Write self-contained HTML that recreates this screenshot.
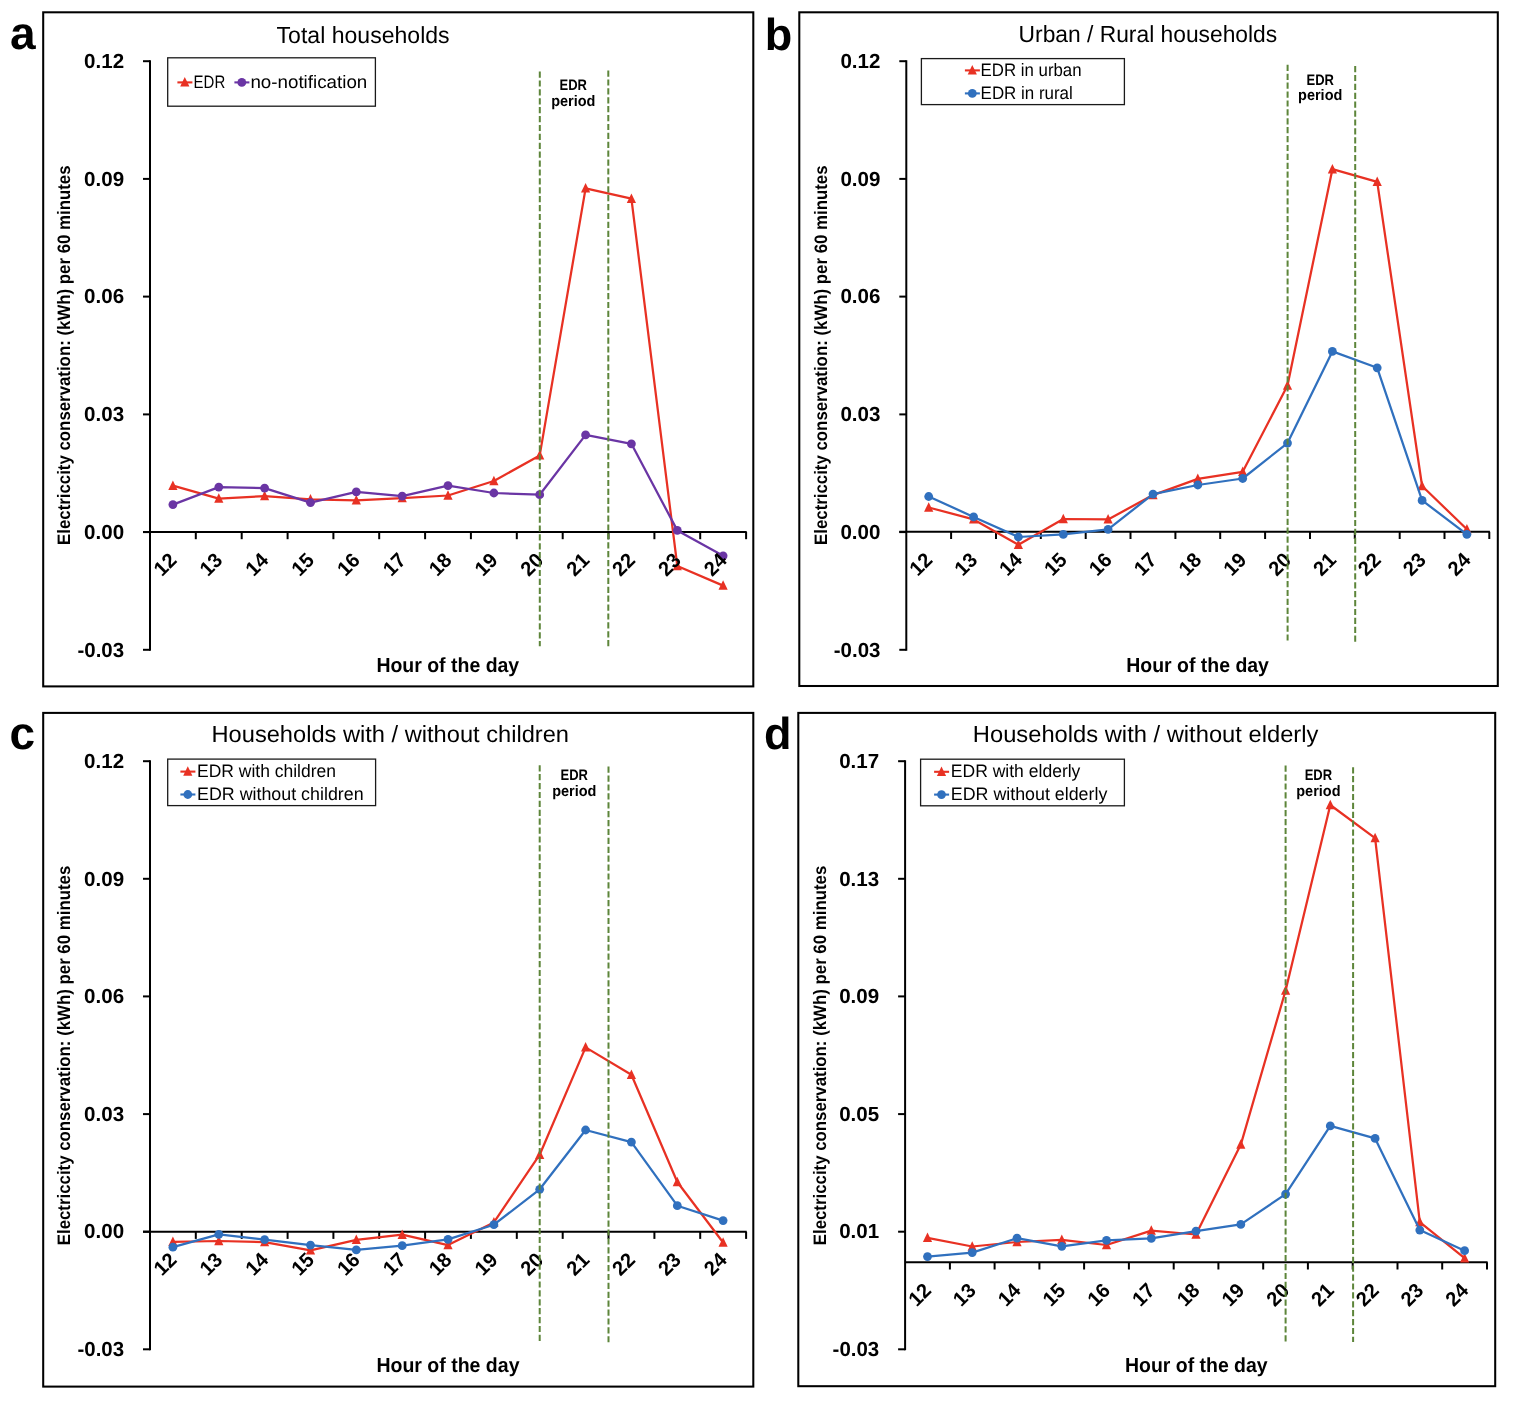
<!DOCTYPE html>
<html lang="en">
<head>
<meta charset="utf-8">
<title>Electricity conservation by hour of the day</title>
<style>
html,body{margin:0;padding:0;background:#fff;}
body{width:1514px;height:1403px;overflow:hidden;}
svg{display:block;}
svg text{font-family:"Liberation Sans",sans-serif;fill:#000;text-rendering:geometricPrecision;}
</style>
</head>
<body>
<svg width="1514" height="1403" viewBox="0 0 1514 1403">
<rect x="0" y="0" width="1514" height="1403" fill="#fff"/>
<g id="panel-a">
<rect x="43.2" y="12.3" width="710.1" height="674.1" fill="#fff" stroke="#000" stroke-width="2.05"/>
<text x="10.1" y="48.7" font-size="46.00" font-weight="700">a</text>
<text x="276.6" y="43.2" font-size="23.32" textLength="173.0" lengthAdjust="spacingAndGlyphs">Total households</text>
<line x1="150.0" y1="60.2" x2="150.0" y2="650.8" stroke="#000" stroke-width="2.0"/>
<line x1="143.0" y1="61.2" x2="150.0" y2="61.2" stroke="#000" stroke-width="2.0"/>
<text x="124.1" y="67.9" font-size="20.33" font-weight="700" text-anchor="end" textLength="40.0" lengthAdjust="spacingAndGlyphs">0.12</text>
<line x1="143.0" y1="178.9" x2="150.0" y2="178.9" stroke="#000" stroke-width="2.0"/>
<text x="124.1" y="185.6" font-size="20.33" font-weight="700" text-anchor="end" textLength="40.0" lengthAdjust="spacingAndGlyphs">0.09</text>
<line x1="143.0" y1="296.6" x2="150.0" y2="296.6" stroke="#000" stroke-width="2.0"/>
<text x="124.1" y="303.3" font-size="20.33" font-weight="700" text-anchor="end" textLength="40.0" lengthAdjust="spacingAndGlyphs">0.06</text>
<line x1="143.0" y1="414.4" x2="150.0" y2="414.4" stroke="#000" stroke-width="2.0"/>
<text x="124.1" y="421.1" font-size="20.33" font-weight="700" text-anchor="end" textLength="40.0" lengthAdjust="spacingAndGlyphs">0.03</text>
<line x1="143.0" y1="532.1" x2="150.0" y2="532.1" stroke="#000" stroke-width="2.0"/>
<text x="124.1" y="538.8" font-size="20.33" font-weight="700" text-anchor="end" textLength="40.0" lengthAdjust="spacingAndGlyphs">0.00</text>
<line x1="143.0" y1="649.8" x2="150.0" y2="649.8" stroke="#000" stroke-width="2.0"/>
<text x="124.1" y="656.5" font-size="20.33" font-weight="700" text-anchor="end" textLength="46.6" lengthAdjust="spacingAndGlyphs">-0.03</text>
<line x1="143.0" y1="532.0" x2="746.7" y2="532.0" stroke="#000" stroke-width="2.0"/>
<line x1="195.8" y1="532.0" x2="195.8" y2="539.2" stroke="#000" stroke-width="2.0"/>
<line x1="241.7" y1="532.0" x2="241.7" y2="539.2" stroke="#000" stroke-width="2.0"/>
<line x1="287.6" y1="532.0" x2="287.6" y2="539.2" stroke="#000" stroke-width="2.0"/>
<line x1="333.4" y1="532.0" x2="333.4" y2="539.2" stroke="#000" stroke-width="2.0"/>
<line x1="379.2" y1="532.0" x2="379.2" y2="539.2" stroke="#000" stroke-width="2.0"/>
<line x1="425.1" y1="532.0" x2="425.1" y2="539.2" stroke="#000" stroke-width="2.0"/>
<line x1="470.9" y1="532.0" x2="470.9" y2="539.2" stroke="#000" stroke-width="2.0"/>
<line x1="516.8" y1="532.0" x2="516.8" y2="539.2" stroke="#000" stroke-width="2.0"/>
<line x1="562.7" y1="532.0" x2="562.7" y2="539.2" stroke="#000" stroke-width="2.0"/>
<line x1="608.5" y1="532.0" x2="608.5" y2="539.2" stroke="#000" stroke-width="2.0"/>
<line x1="654.4" y1="532.0" x2="654.4" y2="539.2" stroke="#000" stroke-width="2.0"/>
<line x1="700.2" y1="532.0" x2="700.2" y2="539.2" stroke="#000" stroke-width="2.0"/>
<line x1="746.1" y1="532.0" x2="746.1" y2="539.2" stroke="#000" stroke-width="2.0"/>
<text x="376.4" y="671.6" font-size="20.52" font-weight="700" textLength="142.8" lengthAdjust="spacingAndGlyphs">Hour of the day</text>
<text transform="translate(70.4,355.2) rotate(-90)" x="0" y="0" font-size="18.00" font-weight="700" text-anchor="middle" textLength="379.5" lengthAdjust="spacingAndGlyphs">Electriccity conservation: (kWh) per 60 minutes</text>
<polyline points="172.9,485.7 218.8,498.6 264.6,496.1 310.5,499.4 356.3,500.4 402.2,498.1 448.0,495.5 493.9,481.0 539.7,455.4 585.6,188.4 631.4,198.7 677.3,566.0 723.1,585.6" fill="none" stroke="#e83123" stroke-width="2.25" stroke-linejoin="round"/>
<polygon points="172.9,480.4 177.5,489.9 168.3,489.9" fill="#e83123"/>
<polygon points="218.8,493.3 223.4,502.8 214.2,502.8" fill="#e83123"/>
<polygon points="264.6,490.8 269.2,500.3 260.0,500.3" fill="#e83123"/>
<polygon points="310.5,494.1 315.1,503.6 305.9,503.6" fill="#e83123"/>
<polygon points="356.3,495.1 360.9,504.6 351.7,504.6" fill="#e83123"/>
<polygon points="402.2,492.8 406.8,502.3 397.6,502.3" fill="#e83123"/>
<polygon points="448.0,490.2 452.6,499.7 443.4,499.7" fill="#e83123"/>
<polygon points="493.9,475.7 498.5,485.2 489.3,485.2" fill="#e83123"/>
<polygon points="539.7,450.1 544.3,459.6 535.1,459.6" fill="#e83123"/>
<polygon points="585.6,183.1 590.2,192.6 581.0,192.6" fill="#e83123"/>
<polygon points="631.4,193.4 636.0,202.9 626.8,202.9" fill="#e83123"/>
<polygon points="677.3,560.7 681.9,570.2 672.7,570.2" fill="#e83123"/>
<polygon points="723.1,580.3 727.7,589.8 718.5,589.8" fill="#e83123"/>
<polyline points="172.9,504.6 218.8,487.1 264.6,488.1 310.5,502.6 356.3,491.9 402.2,496.1 448.0,485.6 493.9,493.0 539.7,494.7 585.6,434.9 631.4,443.8 677.3,530.4 723.1,555.8" fill="none" stroke="#6a35a4" stroke-width="2.25" stroke-linejoin="round"/>
<circle cx="172.9" cy="504.6" r="4.4" fill="#6a35a4"/>
<circle cx="218.8" cy="487.1" r="4.4" fill="#6a35a4"/>
<circle cx="264.6" cy="488.1" r="4.4" fill="#6a35a4"/>
<circle cx="310.5" cy="502.6" r="4.4" fill="#6a35a4"/>
<circle cx="356.3" cy="491.9" r="4.4" fill="#6a35a4"/>
<circle cx="402.2" cy="496.1" r="4.4" fill="#6a35a4"/>
<circle cx="448.0" cy="485.6" r="4.4" fill="#6a35a4"/>
<circle cx="493.9" cy="493.0" r="4.4" fill="#6a35a4"/>
<circle cx="539.7" cy="494.7" r="4.4" fill="#6a35a4"/>
<circle cx="585.6" cy="434.9" r="4.4" fill="#6a35a4"/>
<circle cx="631.4" cy="443.8" r="4.4" fill="#6a35a4"/>
<circle cx="677.3" cy="530.4" r="4.4" fill="#6a35a4"/>
<circle cx="723.1" cy="555.8" r="4.4" fill="#6a35a4"/>
<text transform="translate(165.0,564.3) rotate(-45)" x="0" y="7.0" font-size="20.33" font-weight="700" text-anchor="middle" textLength="22.3" lengthAdjust="spacingAndGlyphs">12</text>
<text transform="translate(210.9,564.3) rotate(-45)" x="0" y="7.0" font-size="20.33" font-weight="700" text-anchor="middle" textLength="22.3" lengthAdjust="spacingAndGlyphs">13</text>
<text transform="translate(256.7,564.3) rotate(-45)" x="0" y="7.0" font-size="20.33" font-weight="700" text-anchor="middle" textLength="22.3" lengthAdjust="spacingAndGlyphs">14</text>
<text transform="translate(302.6,564.3) rotate(-45)" x="0" y="7.0" font-size="20.33" font-weight="700" text-anchor="middle" textLength="22.3" lengthAdjust="spacingAndGlyphs">15</text>
<text transform="translate(348.4,564.3) rotate(-45)" x="0" y="7.0" font-size="20.33" font-weight="700" text-anchor="middle" textLength="22.3" lengthAdjust="spacingAndGlyphs">16</text>
<text transform="translate(394.3,564.3) rotate(-45)" x="0" y="7.0" font-size="20.33" font-weight="700" text-anchor="middle" textLength="22.3" lengthAdjust="spacingAndGlyphs">17</text>
<text transform="translate(440.1,564.3) rotate(-45)" x="0" y="7.0" font-size="20.33" font-weight="700" text-anchor="middle" textLength="22.3" lengthAdjust="spacingAndGlyphs">18</text>
<text transform="translate(486.0,564.3) rotate(-45)" x="0" y="7.0" font-size="20.33" font-weight="700" text-anchor="middle" textLength="22.3" lengthAdjust="spacingAndGlyphs">19</text>
<text transform="translate(531.8,564.3) rotate(-45)" x="0" y="7.0" font-size="20.33" font-weight="700" text-anchor="middle" textLength="22.3" lengthAdjust="spacingAndGlyphs">20</text>
<text transform="translate(577.7,564.3) rotate(-45)" x="0" y="7.0" font-size="20.33" font-weight="700" text-anchor="middle" textLength="22.3" lengthAdjust="spacingAndGlyphs">21</text>
<text transform="translate(623.5,564.3) rotate(-45)" x="0" y="7.0" font-size="20.33" font-weight="700" text-anchor="middle" textLength="22.3" lengthAdjust="spacingAndGlyphs">22</text>
<text transform="translate(669.4,564.3) rotate(-45)" x="0" y="7.0" font-size="20.33" font-weight="700" text-anchor="middle" textLength="22.3" lengthAdjust="spacingAndGlyphs">23</text>
<text transform="translate(715.2,564.3) rotate(-45)" x="0" y="7.0" font-size="20.33" font-weight="700" text-anchor="middle" textLength="22.3" lengthAdjust="spacingAndGlyphs">24</text>
<line x1="539.8" y1="71.5" x2="539.8" y2="646.3" stroke="#5d853a" stroke-width="2.0" stroke-dasharray="6.2 2.7"/>
<line x1="608.3" y1="70.5" x2="608.3" y2="646.3" stroke="#5d853a" stroke-width="2.0" stroke-dasharray="6.2 2.7"/>
<text x="573.3" y="89.9" font-size="15.20" font-weight="700" text-anchor="middle" textLength="27.4" lengthAdjust="spacingAndGlyphs">EDR</text>
<text x="573.3" y="105.6" font-size="15.20" font-weight="700" text-anchor="middle" textLength="44.3" lengthAdjust="spacingAndGlyphs">period</text>
<rect x="167.7" y="57.8" width="207.7" height="48.4" fill="#fff" stroke="#1a1a1a" stroke-width="1.3"/>
<line x1="177.4" y1="82.4" x2="192.4" y2="82.4" stroke="#e83123" stroke-width="2.1"/>
<polygon points="184.8,77.1 189.4,86.6 180.2,86.6" fill="#e83123"/>
<text x="193.6" y="88.2" font-size="18.00" textLength="31.6" lengthAdjust="spacingAndGlyphs">EDR</text>
<line x1="234.4" y1="82.4" x2="249.4" y2="82.4" stroke="#6a35a4" stroke-width="2.1"/>
<circle cx="241.8" cy="82.4" r="4.4" fill="#6a35a4"/>
<text x="250.4" y="88.2" font-size="18.00" textLength="116.9" lengthAdjust="spacingAndGlyphs">no-notification</text>
</g>
<g id="panel-b">
<rect x="799.3" y="12.3" width="698.5" height="673.7" fill="#fff" stroke="#000" stroke-width="2.05"/>
<text x="764.7" y="49.7" font-size="45.00" font-weight="700">b</text>
<text x="1018.6" y="41.7" font-size="23.32" textLength="258.6" lengthAdjust="spacingAndGlyphs">Urban / Rural households</text>
<line x1="906.3" y1="60.2" x2="906.3" y2="650.8" stroke="#000" stroke-width="2.0"/>
<line x1="899.3" y1="61.2" x2="906.3" y2="61.2" stroke="#000" stroke-width="2.0"/>
<text x="880.4" y="67.9" font-size="20.33" font-weight="700" text-anchor="end" textLength="40.0" lengthAdjust="spacingAndGlyphs">0.12</text>
<line x1="899.3" y1="178.9" x2="906.3" y2="178.9" stroke="#000" stroke-width="2.0"/>
<text x="880.4" y="185.6" font-size="20.33" font-weight="700" text-anchor="end" textLength="40.0" lengthAdjust="spacingAndGlyphs">0.09</text>
<line x1="899.3" y1="296.6" x2="906.3" y2="296.6" stroke="#000" stroke-width="2.0"/>
<text x="880.4" y="303.3" font-size="20.33" font-weight="700" text-anchor="end" textLength="40.0" lengthAdjust="spacingAndGlyphs">0.06</text>
<line x1="899.3" y1="414.4" x2="906.3" y2="414.4" stroke="#000" stroke-width="2.0"/>
<text x="880.4" y="421.1" font-size="20.33" font-weight="700" text-anchor="end" textLength="40.0" lengthAdjust="spacingAndGlyphs">0.03</text>
<line x1="899.3" y1="532.1" x2="906.3" y2="532.1" stroke="#000" stroke-width="2.0"/>
<text x="880.4" y="538.8" font-size="20.33" font-weight="700" text-anchor="end" textLength="40.0" lengthAdjust="spacingAndGlyphs">0.00</text>
<line x1="899.3" y1="649.8" x2="906.3" y2="649.8" stroke="#000" stroke-width="2.0"/>
<text x="880.4" y="656.5" font-size="20.33" font-weight="700" text-anchor="end" textLength="46.6" lengthAdjust="spacingAndGlyphs">-0.03</text>
<line x1="899.3" y1="531.8" x2="1489.9" y2="531.8" stroke="#000" stroke-width="2.0"/>
<line x1="951.1" y1="531.8" x2="951.1" y2="539.0" stroke="#000" stroke-width="2.0"/>
<line x1="996.0" y1="531.8" x2="996.0" y2="539.0" stroke="#000" stroke-width="2.0"/>
<line x1="1040.8" y1="531.8" x2="1040.8" y2="539.0" stroke="#000" stroke-width="2.0"/>
<line x1="1085.7" y1="531.8" x2="1085.7" y2="539.0" stroke="#000" stroke-width="2.0"/>
<line x1="1130.5" y1="531.8" x2="1130.5" y2="539.0" stroke="#000" stroke-width="2.0"/>
<line x1="1175.4" y1="531.8" x2="1175.4" y2="539.0" stroke="#000" stroke-width="2.0"/>
<line x1="1220.2" y1="531.8" x2="1220.2" y2="539.0" stroke="#000" stroke-width="2.0"/>
<line x1="1265.1" y1="531.8" x2="1265.1" y2="539.0" stroke="#000" stroke-width="2.0"/>
<line x1="1310.0" y1="531.8" x2="1310.0" y2="539.0" stroke="#000" stroke-width="2.0"/>
<line x1="1354.8" y1="531.8" x2="1354.8" y2="539.0" stroke="#000" stroke-width="2.0"/>
<line x1="1399.7" y1="531.8" x2="1399.7" y2="539.0" stroke="#000" stroke-width="2.0"/>
<line x1="1444.5" y1="531.8" x2="1444.5" y2="539.0" stroke="#000" stroke-width="2.0"/>
<line x1="1489.3" y1="531.8" x2="1489.3" y2="539.0" stroke="#000" stroke-width="2.0"/>
<text x="1126.3" y="671.6" font-size="20.52" font-weight="700" textLength="142.6" lengthAdjust="spacingAndGlyphs">Hour of the day</text>
<text transform="translate(826.5,355.2) rotate(-90)" x="0" y="0" font-size="18.00" font-weight="700" text-anchor="middle" textLength="379.5" lengthAdjust="spacingAndGlyphs">Electriccity conservation: (kWh) per 60 minutes</text>
<polyline points="928.7,507.5 973.6,519.4 1018.4,544.8 1063.3,519.0 1108.1,519.4 1153.0,495.1 1197.8,478.9 1242.7,471.8 1287.5,385.6 1332.4,169.2 1377.2,181.9 1422.1,486.0 1466.9,529.3" fill="none" stroke="#e83123" stroke-width="2.25" stroke-linejoin="round"/>
<polygon points="928.7,502.2 933.3,511.7 924.1,511.7" fill="#e83123"/>
<polygon points="973.6,514.1 978.2,523.6 969.0,523.6" fill="#e83123"/>
<polygon points="1018.4,539.5 1023.0,549.0 1013.8,549.0" fill="#e83123"/>
<polygon points="1063.3,513.7 1067.9,523.2 1058.7,523.2" fill="#e83123"/>
<polygon points="1108.1,514.1 1112.7,523.6 1103.5,523.6" fill="#e83123"/>
<polygon points="1153.0,489.8 1157.6,499.3 1148.4,499.3" fill="#e83123"/>
<polygon points="1197.8,473.6 1202.4,483.1 1193.2,483.1" fill="#e83123"/>
<polygon points="1242.7,466.5 1247.3,476.0 1238.1,476.0" fill="#e83123"/>
<polygon points="1287.5,380.3 1292.1,389.8 1282.9,389.8" fill="#e83123"/>
<polygon points="1332.4,163.9 1337.0,173.4 1327.8,173.4" fill="#e83123"/>
<polygon points="1377.2,176.6 1381.8,186.1 1372.6,186.1" fill="#e83123"/>
<polygon points="1422.1,480.7 1426.7,490.2 1417.5,490.2" fill="#e83123"/>
<polygon points="1466.9,524.0 1471.5,533.5 1462.3,533.5" fill="#e83123"/>
<polyline points="928.7,496.5 973.6,516.9 1018.4,537.0 1063.3,534.4 1108.1,529.4 1153.0,494.1 1197.8,485.0 1242.7,478.5 1287.5,443.1 1332.4,351.4 1377.2,367.8 1422.1,500.4 1466.9,534.3" fill="none" stroke="#3070be" stroke-width="2.25" stroke-linejoin="round"/>
<circle cx="928.7" cy="496.5" r="4.4" fill="#3070be"/>
<circle cx="973.6" cy="516.9" r="4.4" fill="#3070be"/>
<circle cx="1018.4" cy="537.0" r="4.4" fill="#3070be"/>
<circle cx="1063.3" cy="534.4" r="4.4" fill="#3070be"/>
<circle cx="1108.1" cy="529.4" r="4.4" fill="#3070be"/>
<circle cx="1153.0" cy="494.1" r="4.4" fill="#3070be"/>
<circle cx="1197.8" cy="485.0" r="4.4" fill="#3070be"/>
<circle cx="1242.7" cy="478.5" r="4.4" fill="#3070be"/>
<circle cx="1287.5" cy="443.1" r="4.4" fill="#3070be"/>
<circle cx="1332.4" cy="351.4" r="4.4" fill="#3070be"/>
<circle cx="1377.2" cy="367.8" r="4.4" fill="#3070be"/>
<circle cx="1422.1" cy="500.4" r="4.4" fill="#3070be"/>
<circle cx="1466.9" cy="534.3" r="4.4" fill="#3070be"/>
<text transform="translate(920.8,564.1) rotate(-45)" x="0" y="7.0" font-size="20.33" font-weight="700" text-anchor="middle" textLength="22.3" lengthAdjust="spacingAndGlyphs">12</text>
<text transform="translate(965.7,564.1) rotate(-45)" x="0" y="7.0" font-size="20.33" font-weight="700" text-anchor="middle" textLength="22.3" lengthAdjust="spacingAndGlyphs">13</text>
<text transform="translate(1010.5,564.1) rotate(-45)" x="0" y="7.0" font-size="20.33" font-weight="700" text-anchor="middle" textLength="22.3" lengthAdjust="spacingAndGlyphs">14</text>
<text transform="translate(1055.4,564.1) rotate(-45)" x="0" y="7.0" font-size="20.33" font-weight="700" text-anchor="middle" textLength="22.3" lengthAdjust="spacingAndGlyphs">15</text>
<text transform="translate(1100.2,564.1) rotate(-45)" x="0" y="7.0" font-size="20.33" font-weight="700" text-anchor="middle" textLength="22.3" lengthAdjust="spacingAndGlyphs">16</text>
<text transform="translate(1145.1,564.1) rotate(-45)" x="0" y="7.0" font-size="20.33" font-weight="700" text-anchor="middle" textLength="22.3" lengthAdjust="spacingAndGlyphs">17</text>
<text transform="translate(1189.9,564.1) rotate(-45)" x="0" y="7.0" font-size="20.33" font-weight="700" text-anchor="middle" textLength="22.3" lengthAdjust="spacingAndGlyphs">18</text>
<text transform="translate(1234.8,564.1) rotate(-45)" x="0" y="7.0" font-size="20.33" font-weight="700" text-anchor="middle" textLength="22.3" lengthAdjust="spacingAndGlyphs">19</text>
<text transform="translate(1279.6,564.1) rotate(-45)" x="0" y="7.0" font-size="20.33" font-weight="700" text-anchor="middle" textLength="22.3" lengthAdjust="spacingAndGlyphs">20</text>
<text transform="translate(1324.5,564.1) rotate(-45)" x="0" y="7.0" font-size="20.33" font-weight="700" text-anchor="middle" textLength="22.3" lengthAdjust="spacingAndGlyphs">21</text>
<text transform="translate(1369.3,564.1) rotate(-45)" x="0" y="7.0" font-size="20.33" font-weight="700" text-anchor="middle" textLength="22.3" lengthAdjust="spacingAndGlyphs">22</text>
<text transform="translate(1414.2,564.1) rotate(-45)" x="0" y="7.0" font-size="20.33" font-weight="700" text-anchor="middle" textLength="22.3" lengthAdjust="spacingAndGlyphs">23</text>
<text transform="translate(1459.0,564.1) rotate(-45)" x="0" y="7.0" font-size="20.33" font-weight="700" text-anchor="middle" textLength="22.3" lengthAdjust="spacingAndGlyphs">24</text>
<line x1="1287.6" y1="64.8" x2="1287.6" y2="641.3" stroke="#5d853a" stroke-width="2.0" stroke-dasharray="6.2 2.7"/>
<line x1="1355.2" y1="66.0" x2="1355.2" y2="642.0" stroke="#5d853a" stroke-width="2.0" stroke-dasharray="6.2 2.7"/>
<text x="1320.2" y="84.5" font-size="15.20" font-weight="700" text-anchor="middle" textLength="27.4" lengthAdjust="spacingAndGlyphs">EDR</text>
<text x="1320.2" y="100.2" font-size="15.20" font-weight="700" text-anchor="middle" textLength="44.3" lengthAdjust="spacingAndGlyphs">period</text>
<rect x="921.4" y="58.6" width="203.0" height="46.0" fill="#fff" stroke="#1a1a1a" stroke-width="1.3"/>
<line x1="964.9" y1="70.4" x2="979.9" y2="70.4" stroke="#e83123" stroke-width="2.1"/>
<polygon points="972.3,65.1 976.9,74.6 967.7,74.6" fill="#e83123"/>
<text x="980.6" y="76.3" font-size="18.00" textLength="101.0" lengthAdjust="spacingAndGlyphs">EDR in urban</text>
<line x1="964.9" y1="93.4" x2="979.9" y2="93.4" stroke="#3070be" stroke-width="2.1"/>
<circle cx="972.3" cy="93.4" r="4.4" fill="#3070be"/>
<text x="980.6" y="99.3" font-size="18.00" textLength="92.2" lengthAdjust="spacingAndGlyphs">EDR in rural</text>
</g>
<g id="panel-c">
<rect x="43.2" y="712.9" width="710.1" height="673.7" fill="#fff" stroke="#000" stroke-width="2.05"/>
<text x="9.4" y="749.2" font-size="46.00" font-weight="700">c</text>
<text x="211.5" y="741.8" font-size="23.32" textLength="357.5" lengthAdjust="spacingAndGlyphs">Households with / without children</text>
<line x1="150.0" y1="760.2" x2="150.0" y2="1350.3" stroke="#000" stroke-width="2.0"/>
<line x1="143.0" y1="761.2" x2="150.0" y2="761.2" stroke="#000" stroke-width="2.0"/>
<text x="124.1" y="767.9" font-size="20.33" font-weight="700" text-anchor="end" textLength="40.0" lengthAdjust="spacingAndGlyphs">0.12</text>
<line x1="143.0" y1="878.8" x2="150.0" y2="878.8" stroke="#000" stroke-width="2.0"/>
<text x="124.1" y="885.5" font-size="20.33" font-weight="700" text-anchor="end" textLength="40.0" lengthAdjust="spacingAndGlyphs">0.09</text>
<line x1="143.0" y1="996.4" x2="150.0" y2="996.4" stroke="#000" stroke-width="2.0"/>
<text x="124.1" y="1003.1" font-size="20.33" font-weight="700" text-anchor="end" textLength="40.0" lengthAdjust="spacingAndGlyphs">0.06</text>
<line x1="143.0" y1="1114.1" x2="150.0" y2="1114.1" stroke="#000" stroke-width="2.0"/>
<text x="124.1" y="1120.8" font-size="20.33" font-weight="700" text-anchor="end" textLength="40.0" lengthAdjust="spacingAndGlyphs">0.03</text>
<line x1="143.0" y1="1231.7" x2="150.0" y2="1231.7" stroke="#000" stroke-width="2.0"/>
<text x="124.1" y="1238.4" font-size="20.33" font-weight="700" text-anchor="end" textLength="40.0" lengthAdjust="spacingAndGlyphs">0.00</text>
<line x1="143.0" y1="1349.3" x2="150.0" y2="1349.3" stroke="#000" stroke-width="2.0"/>
<text x="124.1" y="1356.0" font-size="20.33" font-weight="700" text-anchor="end" textLength="46.6" lengthAdjust="spacingAndGlyphs">-0.03</text>
<line x1="143.0" y1="1231.7" x2="746.7" y2="1231.7" stroke="#000" stroke-width="2.0"/>
<line x1="195.8" y1="1231.7" x2="195.8" y2="1238.9" stroke="#000" stroke-width="2.0"/>
<line x1="241.7" y1="1231.7" x2="241.7" y2="1238.9" stroke="#000" stroke-width="2.0"/>
<line x1="287.6" y1="1231.7" x2="287.6" y2="1238.9" stroke="#000" stroke-width="2.0"/>
<line x1="333.4" y1="1231.7" x2="333.4" y2="1238.9" stroke="#000" stroke-width="2.0"/>
<line x1="379.2" y1="1231.7" x2="379.2" y2="1238.9" stroke="#000" stroke-width="2.0"/>
<line x1="425.1" y1="1231.7" x2="425.1" y2="1238.9" stroke="#000" stroke-width="2.0"/>
<line x1="470.9" y1="1231.7" x2="470.9" y2="1238.9" stroke="#000" stroke-width="2.0"/>
<line x1="516.8" y1="1231.7" x2="516.8" y2="1238.9" stroke="#000" stroke-width="2.0"/>
<line x1="562.7" y1="1231.7" x2="562.7" y2="1238.9" stroke="#000" stroke-width="2.0"/>
<line x1="608.5" y1="1231.7" x2="608.5" y2="1238.9" stroke="#000" stroke-width="2.0"/>
<line x1="654.4" y1="1231.7" x2="654.4" y2="1238.9" stroke="#000" stroke-width="2.0"/>
<line x1="700.2" y1="1231.7" x2="700.2" y2="1238.9" stroke="#000" stroke-width="2.0"/>
<line x1="746.1" y1="1231.7" x2="746.1" y2="1238.9" stroke="#000" stroke-width="2.0"/>
<text x="376.4" y="1371.7" font-size="20.52" font-weight="700" textLength="143.1" lengthAdjust="spacingAndGlyphs">Hour of the day</text>
<text transform="translate(70.4,1055.5) rotate(-90)" x="0" y="0" font-size="18.00" font-weight="700" text-anchor="middle" textLength="379.5" lengthAdjust="spacingAndGlyphs">Electriccity conservation: (kWh) per 60 minutes</text>
<polyline points="172.9,1241.9 218.8,1241.0 264.6,1242.1 310.5,1250.3 356.3,1239.8 402.2,1234.7 448.0,1245.1 493.9,1222.4 539.7,1154.7 585.6,1047.4 631.4,1074.8 677.3,1182.0 723.1,1242.5" fill="none" stroke="#e83123" stroke-width="2.25" stroke-linejoin="round"/>
<polygon points="172.9,1236.6 177.5,1246.1 168.3,1246.1" fill="#e83123"/>
<polygon points="218.8,1235.7 223.4,1245.2 214.2,1245.2" fill="#e83123"/>
<polygon points="264.6,1236.8 269.2,1246.3 260.0,1246.3" fill="#e83123"/>
<polygon points="310.5,1245.0 315.1,1254.5 305.9,1254.5" fill="#e83123"/>
<polygon points="356.3,1234.5 360.9,1244.0 351.7,1244.0" fill="#e83123"/>
<polygon points="402.2,1229.4 406.8,1238.9 397.6,1238.9" fill="#e83123"/>
<polygon points="448.0,1239.8 452.6,1249.3 443.4,1249.3" fill="#e83123"/>
<polygon points="493.9,1217.1 498.5,1226.6 489.3,1226.6" fill="#e83123"/>
<polygon points="539.7,1149.4 544.3,1158.9 535.1,1158.9" fill="#e83123"/>
<polygon points="585.6,1042.1 590.2,1051.6 581.0,1051.6" fill="#e83123"/>
<polygon points="631.4,1069.5 636.0,1079.0 626.8,1079.0" fill="#e83123"/>
<polygon points="677.3,1176.7 681.9,1186.2 672.7,1186.2" fill="#e83123"/>
<polygon points="723.1,1237.2 727.7,1246.7 718.5,1246.7" fill="#e83123"/>
<polyline points="172.9,1247.2 218.8,1234.3 264.6,1239.6 310.5,1245.1 356.3,1249.9 402.2,1245.7 448.0,1239.4 493.9,1224.7 539.7,1189.3 585.6,1130.0 631.4,1142.1 677.3,1205.7 723.1,1220.6" fill="none" stroke="#3070be" stroke-width="2.25" stroke-linejoin="round"/>
<circle cx="172.9" cy="1247.2" r="4.4" fill="#3070be"/>
<circle cx="218.8" cy="1234.3" r="4.4" fill="#3070be"/>
<circle cx="264.6" cy="1239.6" r="4.4" fill="#3070be"/>
<circle cx="310.5" cy="1245.1" r="4.4" fill="#3070be"/>
<circle cx="356.3" cy="1249.9" r="4.4" fill="#3070be"/>
<circle cx="402.2" cy="1245.7" r="4.4" fill="#3070be"/>
<circle cx="448.0" cy="1239.4" r="4.4" fill="#3070be"/>
<circle cx="493.9" cy="1224.7" r="4.4" fill="#3070be"/>
<circle cx="539.7" cy="1189.3" r="4.4" fill="#3070be"/>
<circle cx="585.6" cy="1130.0" r="4.4" fill="#3070be"/>
<circle cx="631.4" cy="1142.1" r="4.4" fill="#3070be"/>
<circle cx="677.3" cy="1205.7" r="4.4" fill="#3070be"/>
<circle cx="723.1" cy="1220.6" r="4.4" fill="#3070be"/>
<text transform="translate(165.0,1264.0) rotate(-45)" x="0" y="7.0" font-size="20.33" font-weight="700" text-anchor="middle" textLength="22.3" lengthAdjust="spacingAndGlyphs">12</text>
<text transform="translate(210.9,1264.0) rotate(-45)" x="0" y="7.0" font-size="20.33" font-weight="700" text-anchor="middle" textLength="22.3" lengthAdjust="spacingAndGlyphs">13</text>
<text transform="translate(256.7,1264.0) rotate(-45)" x="0" y="7.0" font-size="20.33" font-weight="700" text-anchor="middle" textLength="22.3" lengthAdjust="spacingAndGlyphs">14</text>
<text transform="translate(302.6,1264.0) rotate(-45)" x="0" y="7.0" font-size="20.33" font-weight="700" text-anchor="middle" textLength="22.3" lengthAdjust="spacingAndGlyphs">15</text>
<text transform="translate(348.4,1264.0) rotate(-45)" x="0" y="7.0" font-size="20.33" font-weight="700" text-anchor="middle" textLength="22.3" lengthAdjust="spacingAndGlyphs">16</text>
<text transform="translate(394.3,1264.0) rotate(-45)" x="0" y="7.0" font-size="20.33" font-weight="700" text-anchor="middle" textLength="22.3" lengthAdjust="spacingAndGlyphs">17</text>
<text transform="translate(440.1,1264.0) rotate(-45)" x="0" y="7.0" font-size="20.33" font-weight="700" text-anchor="middle" textLength="22.3" lengthAdjust="spacingAndGlyphs">18</text>
<text transform="translate(486.0,1264.0) rotate(-45)" x="0" y="7.0" font-size="20.33" font-weight="700" text-anchor="middle" textLength="22.3" lengthAdjust="spacingAndGlyphs">19</text>
<text transform="translate(531.8,1264.0) rotate(-45)" x="0" y="7.0" font-size="20.33" font-weight="700" text-anchor="middle" textLength="22.3" lengthAdjust="spacingAndGlyphs">20</text>
<text transform="translate(577.7,1264.0) rotate(-45)" x="0" y="7.0" font-size="20.33" font-weight="700" text-anchor="middle" textLength="22.3" lengthAdjust="spacingAndGlyphs">21</text>
<text transform="translate(623.5,1264.0) rotate(-45)" x="0" y="7.0" font-size="20.33" font-weight="700" text-anchor="middle" textLength="22.3" lengthAdjust="spacingAndGlyphs">22</text>
<text transform="translate(669.4,1264.0) rotate(-45)" x="0" y="7.0" font-size="20.33" font-weight="700" text-anchor="middle" textLength="22.3" lengthAdjust="spacingAndGlyphs">23</text>
<text transform="translate(715.2,1264.0) rotate(-45)" x="0" y="7.0" font-size="20.33" font-weight="700" text-anchor="middle" textLength="22.3" lengthAdjust="spacingAndGlyphs">24</text>
<line x1="539.7" y1="765.2" x2="539.7" y2="1343.0" stroke="#5d853a" stroke-width="2.0" stroke-dasharray="6.2 2.7"/>
<line x1="608.5" y1="766.6" x2="608.5" y2="1342.3" stroke="#5d853a" stroke-width="2.0" stroke-dasharray="6.2 2.7"/>
<text x="574.3" y="779.8" font-size="15.20" font-weight="700" text-anchor="middle" textLength="27.4" lengthAdjust="spacingAndGlyphs">EDR</text>
<text x="574.3" y="795.5" font-size="15.20" font-weight="700" text-anchor="middle" textLength="44.3" lengthAdjust="spacingAndGlyphs">period</text>
<rect x="167.7" y="759.1" width="207.9" height="46.5" fill="#fff" stroke="#1a1a1a" stroke-width="1.3"/>
<line x1="180.4" y1="771.6" x2="195.4" y2="771.6" stroke="#e83123" stroke-width="2.1"/>
<polygon points="187.8,766.3 192.4,775.8 183.2,775.8" fill="#e83123"/>
<text x="197.0" y="776.7" font-size="18.00" textLength="139.0" lengthAdjust="spacingAndGlyphs">EDR with children</text>
<line x1="180.4" y1="794.5" x2="195.4" y2="794.5" stroke="#3070be" stroke-width="2.1"/>
<circle cx="187.8" cy="794.5" r="4.4" fill="#3070be"/>
<text x="197.0" y="799.7" font-size="18.00" textLength="166.6" lengthAdjust="spacingAndGlyphs">EDR without children</text>
</g>
<g id="panel-d">
<rect x="798.3" y="712.9" width="696.9" height="673.3" fill="#fff" stroke="#000" stroke-width="2.05"/>
<text x="764.0" y="748.5" font-size="45.00" font-weight="700">d</text>
<text x="972.8" y="742.2" font-size="23.32" textLength="345.6" lengthAdjust="spacingAndGlyphs">Households with / without elderly</text>
<line x1="905.1" y1="760.2" x2="905.1" y2="1350.3" stroke="#000" stroke-width="2.0"/>
<line x1="898.1" y1="761.2" x2="905.1" y2="761.2" stroke="#000" stroke-width="2.0"/>
<text x="879.2" y="767.9" font-size="20.33" font-weight="700" text-anchor="end" textLength="40.0" lengthAdjust="spacingAndGlyphs">0.17</text>
<line x1="898.1" y1="878.8" x2="905.1" y2="878.8" stroke="#000" stroke-width="2.0"/>
<text x="879.2" y="885.5" font-size="20.33" font-weight="700" text-anchor="end" textLength="40.0" lengthAdjust="spacingAndGlyphs">0.13</text>
<line x1="898.1" y1="996.4" x2="905.1" y2="996.4" stroke="#000" stroke-width="2.0"/>
<text x="879.2" y="1003.1" font-size="20.33" font-weight="700" text-anchor="end" textLength="40.0" lengthAdjust="spacingAndGlyphs">0.09</text>
<line x1="898.1" y1="1114.1" x2="905.1" y2="1114.1" stroke="#000" stroke-width="2.0"/>
<text x="879.2" y="1120.8" font-size="20.33" font-weight="700" text-anchor="end" textLength="40.0" lengthAdjust="spacingAndGlyphs">0.05</text>
<line x1="898.1" y1="1231.7" x2="905.1" y2="1231.7" stroke="#000" stroke-width="2.0"/>
<text x="879.2" y="1238.4" font-size="20.33" font-weight="700" text-anchor="end" textLength="40.0" lengthAdjust="spacingAndGlyphs">0.01</text>
<line x1="898.1" y1="1349.3" x2="905.1" y2="1349.3" stroke="#000" stroke-width="2.0"/>
<text x="879.2" y="1356.0" font-size="20.33" font-weight="700" text-anchor="end" textLength="46.6" lengthAdjust="spacingAndGlyphs">-0.03</text>
<line x1="905.1" y1="1262.3" x2="1487.6" y2="1262.3" stroke="#000" stroke-width="2.0"/>
<line x1="949.9" y1="1262.3" x2="949.9" y2="1269.5" stroke="#000" stroke-width="2.0"/>
<line x1="994.6" y1="1262.3" x2="994.6" y2="1269.5" stroke="#000" stroke-width="2.0"/>
<line x1="1039.4" y1="1262.3" x2="1039.4" y2="1269.5" stroke="#000" stroke-width="2.0"/>
<line x1="1084.1" y1="1262.3" x2="1084.1" y2="1269.5" stroke="#000" stroke-width="2.0"/>
<line x1="1128.9" y1="1262.3" x2="1128.9" y2="1269.5" stroke="#000" stroke-width="2.0"/>
<line x1="1173.7" y1="1262.3" x2="1173.7" y2="1269.5" stroke="#000" stroke-width="2.0"/>
<line x1="1218.4" y1="1262.3" x2="1218.4" y2="1269.5" stroke="#000" stroke-width="2.0"/>
<line x1="1263.2" y1="1262.3" x2="1263.2" y2="1269.5" stroke="#000" stroke-width="2.0"/>
<line x1="1307.9" y1="1262.3" x2="1307.9" y2="1269.5" stroke="#000" stroke-width="2.0"/>
<line x1="1352.7" y1="1262.3" x2="1352.7" y2="1269.5" stroke="#000" stroke-width="2.0"/>
<line x1="1397.5" y1="1262.3" x2="1397.5" y2="1269.5" stroke="#000" stroke-width="2.0"/>
<line x1="1442.2" y1="1262.3" x2="1442.2" y2="1269.5" stroke="#000" stroke-width="2.0"/>
<line x1="1487.0" y1="1262.3" x2="1487.0" y2="1269.5" stroke="#000" stroke-width="2.0"/>
<text x="1125.0" y="1371.6" font-size="20.52" font-weight="700" textLength="142.6" lengthAdjust="spacingAndGlyphs">Hour of the day</text>
<text transform="translate(825.5,1055.5) rotate(-90)" x="0" y="0" font-size="18.00" font-weight="700" text-anchor="middle" textLength="379.5" lengthAdjust="spacingAndGlyphs">Electriccity conservation: (kWh) per 60 minutes</text>
<polyline points="927.5,1237.8 972.2,1246.5 1017.0,1242.0 1061.8,1239.9 1106.5,1245.0 1151.3,1230.6 1196.0,1234.5 1240.8,1144.6 1285.6,990.5 1330.3,805.0 1375.1,838.1 1419.8,1222.1 1464.6,1258.2" fill="none" stroke="#e83123" stroke-width="2.25" stroke-linejoin="round"/>
<polygon points="927.5,1232.5 932.1,1242.0 922.9,1242.0" fill="#e83123"/>
<polygon points="972.2,1241.2 976.8,1250.7 967.6,1250.7" fill="#e83123"/>
<polygon points="1017.0,1236.7 1021.6,1246.2 1012.4,1246.2" fill="#e83123"/>
<polygon points="1061.8,1234.6 1066.4,1244.1 1057.2,1244.1" fill="#e83123"/>
<polygon points="1106.5,1239.7 1111.1,1249.2 1101.9,1249.2" fill="#e83123"/>
<polygon points="1151.3,1225.3 1155.9,1234.8 1146.7,1234.8" fill="#e83123"/>
<polygon points="1196.0,1229.2 1200.6,1238.7 1191.4,1238.7" fill="#e83123"/>
<polygon points="1240.8,1139.3 1245.4,1148.8 1236.2,1148.8" fill="#e83123"/>
<polygon points="1285.6,985.2 1290.2,994.7 1281.0,994.7" fill="#e83123"/>
<polygon points="1330.3,799.7 1334.9,809.2 1325.7,809.2" fill="#e83123"/>
<polygon points="1375.1,832.8 1379.7,842.3 1370.5,842.3" fill="#e83123"/>
<polygon points="1419.8,1216.8 1424.4,1226.3 1415.2,1226.3" fill="#e83123"/>
<polygon points="1464.6,1252.9 1469.2,1262.4 1460.0,1262.4" fill="#e83123"/>
<polyline points="927.5,1256.6 972.2,1252.6 1017.0,1238.2 1061.8,1246.3 1106.5,1240.4 1151.3,1238.4 1196.0,1231.2 1240.8,1224.4 1285.6,1194.1 1330.3,1125.9 1375.1,1138.4 1419.8,1230.1 1464.6,1250.7" fill="none" stroke="#3070be" stroke-width="2.25" stroke-linejoin="round"/>
<circle cx="927.5" cy="1256.6" r="4.4" fill="#3070be"/>
<circle cx="972.2" cy="1252.6" r="4.4" fill="#3070be"/>
<circle cx="1017.0" cy="1238.2" r="4.4" fill="#3070be"/>
<circle cx="1061.8" cy="1246.3" r="4.4" fill="#3070be"/>
<circle cx="1106.5" cy="1240.4" r="4.4" fill="#3070be"/>
<circle cx="1151.3" cy="1238.4" r="4.4" fill="#3070be"/>
<circle cx="1196.0" cy="1231.2" r="4.4" fill="#3070be"/>
<circle cx="1240.8" cy="1224.4" r="4.4" fill="#3070be"/>
<circle cx="1285.6" cy="1194.1" r="4.4" fill="#3070be"/>
<circle cx="1330.3" cy="1125.9" r="4.4" fill="#3070be"/>
<circle cx="1375.1" cy="1138.4" r="4.4" fill="#3070be"/>
<circle cx="1419.8" cy="1230.1" r="4.4" fill="#3070be"/>
<circle cx="1464.6" cy="1250.7" r="4.4" fill="#3070be"/>
<text transform="translate(919.6,1294.6) rotate(-45)" x="0" y="7.0" font-size="20.33" font-weight="700" text-anchor="middle" textLength="22.3" lengthAdjust="spacingAndGlyphs">12</text>
<text transform="translate(964.3,1294.6) rotate(-45)" x="0" y="7.0" font-size="20.33" font-weight="700" text-anchor="middle" textLength="22.3" lengthAdjust="spacingAndGlyphs">13</text>
<text transform="translate(1009.1,1294.6) rotate(-45)" x="0" y="7.0" font-size="20.33" font-weight="700" text-anchor="middle" textLength="22.3" lengthAdjust="spacingAndGlyphs">14</text>
<text transform="translate(1053.9,1294.6) rotate(-45)" x="0" y="7.0" font-size="20.33" font-weight="700" text-anchor="middle" textLength="22.3" lengthAdjust="spacingAndGlyphs">15</text>
<text transform="translate(1098.6,1294.6) rotate(-45)" x="0" y="7.0" font-size="20.33" font-weight="700" text-anchor="middle" textLength="22.3" lengthAdjust="spacingAndGlyphs">16</text>
<text transform="translate(1143.4,1294.6) rotate(-45)" x="0" y="7.0" font-size="20.33" font-weight="700" text-anchor="middle" textLength="22.3" lengthAdjust="spacingAndGlyphs">17</text>
<text transform="translate(1188.1,1294.6) rotate(-45)" x="0" y="7.0" font-size="20.33" font-weight="700" text-anchor="middle" textLength="22.3" lengthAdjust="spacingAndGlyphs">18</text>
<text transform="translate(1232.9,1294.6) rotate(-45)" x="0" y="7.0" font-size="20.33" font-weight="700" text-anchor="middle" textLength="22.3" lengthAdjust="spacingAndGlyphs">19</text>
<text transform="translate(1277.7,1294.6) rotate(-45)" x="0" y="7.0" font-size="20.33" font-weight="700" text-anchor="middle" textLength="22.3" lengthAdjust="spacingAndGlyphs">20</text>
<text transform="translate(1322.4,1294.6) rotate(-45)" x="0" y="7.0" font-size="20.33" font-weight="700" text-anchor="middle" textLength="22.3" lengthAdjust="spacingAndGlyphs">21</text>
<text transform="translate(1367.2,1294.6) rotate(-45)" x="0" y="7.0" font-size="20.33" font-weight="700" text-anchor="middle" textLength="22.3" lengthAdjust="spacingAndGlyphs">22</text>
<text transform="translate(1411.9,1294.6) rotate(-45)" x="0" y="7.0" font-size="20.33" font-weight="700" text-anchor="middle" textLength="22.3" lengthAdjust="spacingAndGlyphs">23</text>
<text transform="translate(1456.7,1294.6) rotate(-45)" x="0" y="7.0" font-size="20.33" font-weight="700" text-anchor="middle" textLength="22.3" lengthAdjust="spacingAndGlyphs">24</text>
<line x1="1285.6" y1="765.6" x2="1285.6" y2="1342.0" stroke="#5d853a" stroke-width="2.0" stroke-dasharray="6.2 2.7"/>
<line x1="1353.1" y1="767.2" x2="1353.1" y2="1342.0" stroke="#5d853a" stroke-width="2.0" stroke-dasharray="6.2 2.7"/>
<text x="1318.4" y="780.4" font-size="15.20" font-weight="700" text-anchor="middle" textLength="27.4" lengthAdjust="spacingAndGlyphs">EDR</text>
<text x="1318.4" y="796.1" font-size="15.20" font-weight="700" text-anchor="middle" textLength="44.3" lengthAdjust="spacingAndGlyphs">period</text>
<rect x="920.6" y="759.2" width="203.8" height="46.6" fill="#fff" stroke="#1a1a1a" stroke-width="1.3"/>
<line x1="934.1" y1="771.8" x2="949.1" y2="771.8" stroke="#e83123" stroke-width="2.1"/>
<polygon points="941.5,766.5 946.1,776.0 936.9,776.0" fill="#e83123"/>
<text x="950.8" y="776.9" font-size="18.00" textLength="129.6" lengthAdjust="spacingAndGlyphs">EDR with elderly</text>
<line x1="934.1" y1="794.6" x2="949.1" y2="794.6" stroke="#3070be" stroke-width="2.1"/>
<circle cx="941.5" cy="794.6" r="4.4" fill="#3070be"/>
<text x="950.8" y="799.9" font-size="18.00" textLength="156.5" lengthAdjust="spacingAndGlyphs">EDR without elderly</text>
</g>
</svg>
</body>
</html>
